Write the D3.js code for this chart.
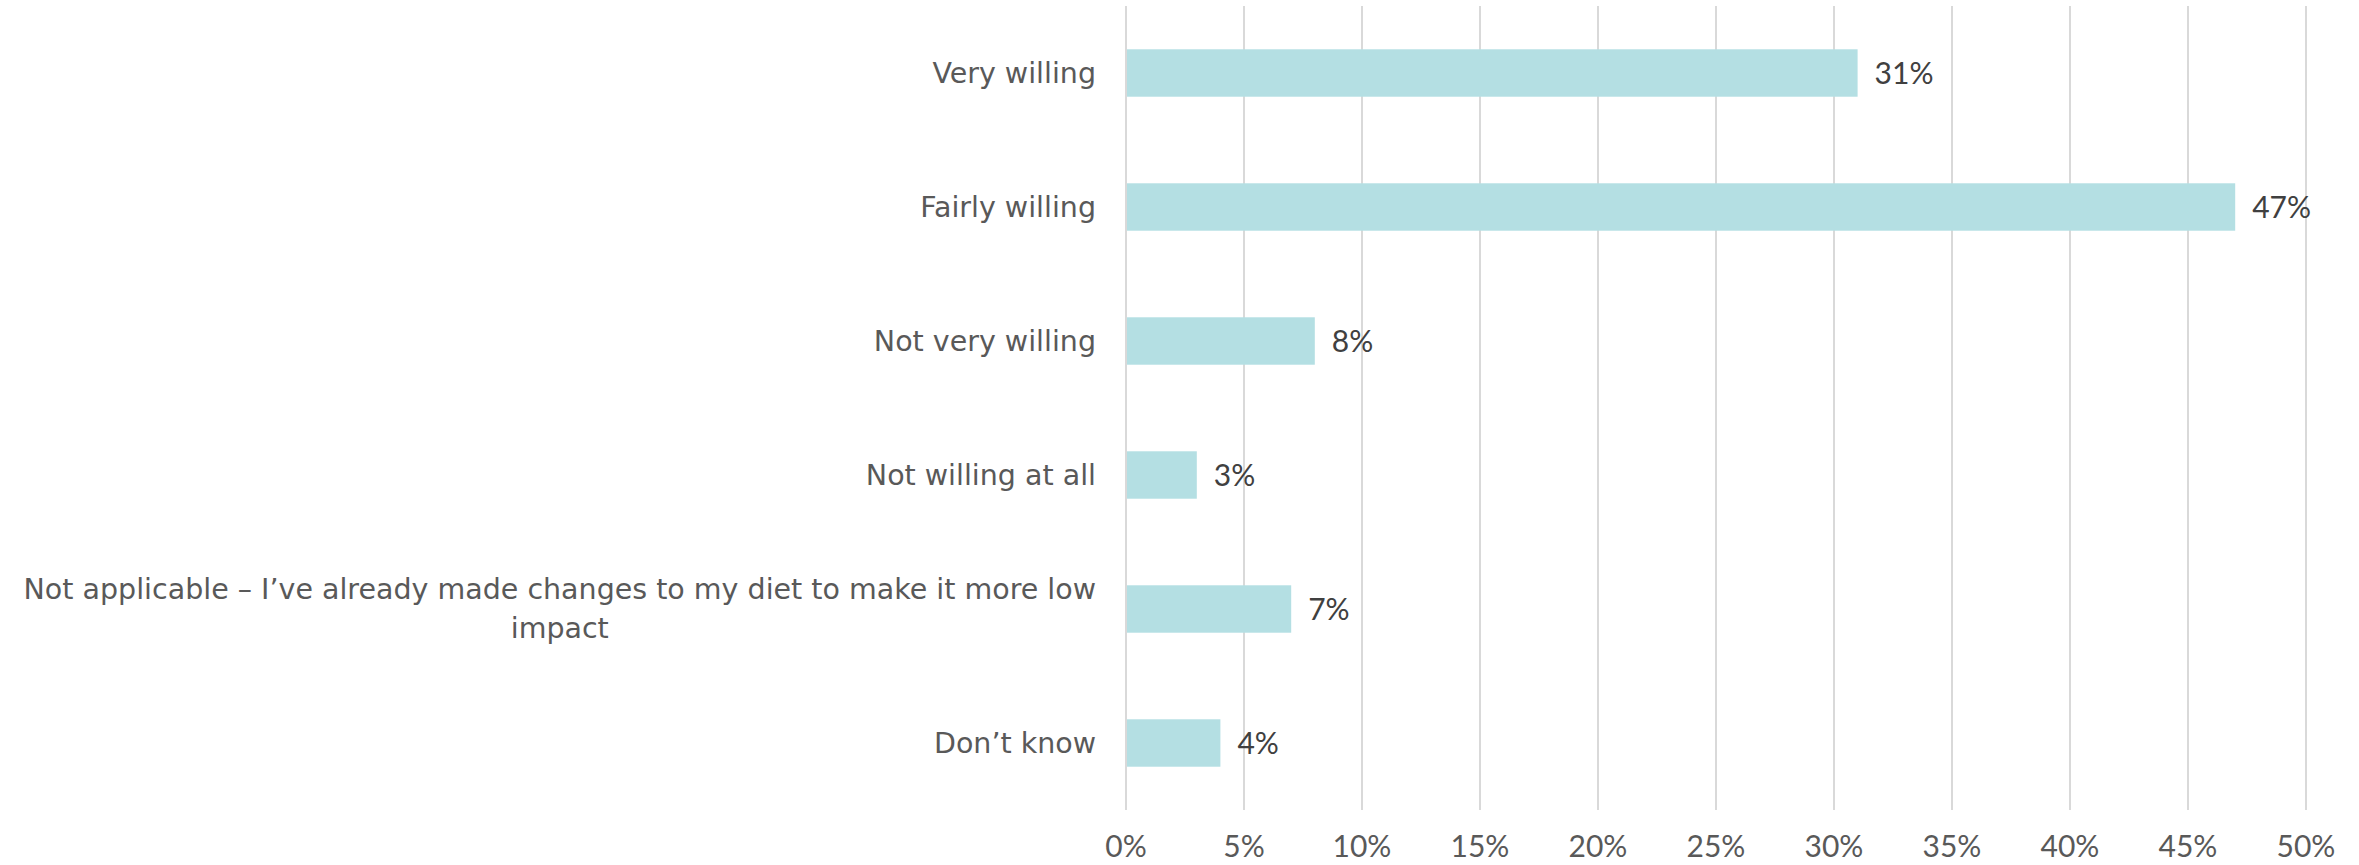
<!DOCTYPE html>
<html>
<head>
<meta charset="utf-8">
<script src="https://cdn.jsdelivr.net/npm/d3@7"></script>
<style>
  html, body { margin: 0; padding: 0; background: #ffffff; }
  svg { display: block; }
</style>
</head>
<body>
<svg id="chart" width="2359" height="865"></svg>
<script>
// Survey responses: willingness to change diet
const categories = [
  "Very willing",
  "Fairly willing",
  "Not very willing",
  "Not willing at all",
  "Not applicable – I’ve already made changes to my diet to make it more low impact",
  "Don’t know"
];
const values = [31, 47, 8, 3, 7, 4];
const tickValues = [0, 5, 10, 15, 20, 25, 30, 35, 40, 45, 50];

const plot = { left: 1126, right: 2306, top: 6, bottom: 810 };

const svg = d3.select("#chart");

const x = d3.scaleLinear().domain([0, 50]).range([plot.left, plot.right]);
const y = d3.scaleBand().domain(categories).range([plot.top, plot.bottom]).paddingInner(0.646).paddingOuter(0.323);

const numberFont = "Lato, 'Open Sans', sans-serif";

// vertical gridlines
svg.append("g")
  .selectAll("line")
  .data(tickValues)
  .join("line")
  .attr("x1", d => x(d)).attr("x2", d => x(d))
  .attr("y1", plot.top).attr("y2", plot.bottom)
  .attr("stroke", "#d9d9d9")
  .attr("stroke-width", 2);

// tick labels along the bottom
svg.append("g")
  .selectAll("text")
  .data(tickValues)
  .join("text")
  .attr("x", d => x(d))
  .attr("y", 857)
  .attr("text-anchor", "middle")
  .attr("font-family", numberFont)
  .attr("font-size", 30)
  .attr("fill", "#595959")
  .text(d => d + "%");

// bars
svg.append("g")
  .selectAll("rect")
  .data(categories)
  .join("rect")
  .attr("x", x(0) + 1)
  .attr("y", d => y(d))
  .attr("width", (d, i) => x(values[i]) - x(0) - 1)
  .attr("height", y.bandwidth())
  .attr("fill", "#b4dfe3");

// value labels
svg.append("g")
  .selectAll("text")
  .data(categories)
  .join("text")
  .attr("x", (d, i) => x(values[i]) + 17)
  .attr("y", d => y(d) + y.bandwidth() / 2)
  .attr("dy", "0.35em")
  .attr("font-family", numberFont)
  .attr("font-size", 30)
  .attr("fill", "#404040")
  .text((d, i) => values[i] + "%");

// category labels, wrapped to fit left of the axis
const maxLabelWidth = 1095;
const lineHeight = 39;
const labelX = x(0) - 30;
const labelG = svg.append("g");
categories.forEach(cat => {
  const cy = y(cat) + y.bandwidth() / 2;
  const t = labelG.append("text")
    .attr("font-family", "'DejaVu Sans', sans-serif")
    .attr("font-size", 28.5)
    .attr("fill", "#595959");
  const words = cat.split(" ");
  const lines = [];
  let cur = "";
  const probe = t.append("tspan");
  words.forEach(w => {
    const test = cur ? cur + " " + w : w;
    probe.text(test);
    if (probe.node().getComputedTextLength() > maxLabelWidth && cur) {
      lines.push(cur);
      cur = w;
    } else {
      cur = test;
    }
  });
  lines.push(cur);
  probe.remove();
  // widest line sets the centre for multi-line labels
  const widths = lines.map(l => {
    const s = t.append("tspan").text(l);
    const wv = s.node().getComputedTextLength();
    s.remove();
    return wv;
  });
  const maxW = d3.max(widths);
  const multi = lines.length > 1;
  lines.forEach((l, i) => {
    const ly = cy + (i - (lines.length - 1) / 2) * lineHeight;
    t.append("tspan")
      .attr("x", multi ? labelX - maxW / 2 : labelX)
      .attr("y", ly)
      .attr("dy", "0.35em")
      .attr("text-anchor", multi ? "middle" : "end")
      .text(l);
  });
});
</script>
</body>
</html>
